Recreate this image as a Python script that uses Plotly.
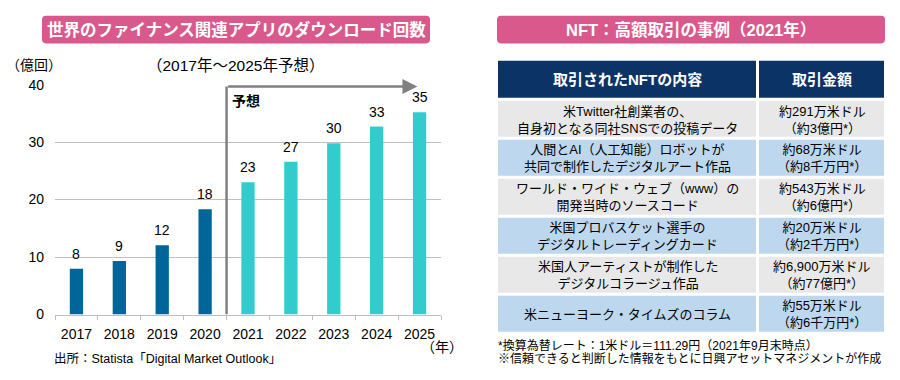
import plotly.graph_objects as go

# ---------------- data ----------------
years = ["2017", "2018", "2019", "2020", "2021", "2022", "2023", "2024", "2025"]
downloads = [7.95, 9.3, 12.05, 18.3, 23.0, 26.6, 29.8, 32.7, 35.2]   # 億回
labels = ["8", "9", "12", "18", "23", "27", "30", "33", "35"]
is_forecast = [False, False, False, False, True, True, True, True, True]

nft_items = [
    "米Twitter社創業者の、<br>自身初となる同社SNSでの投稿データ",
    "人間とAI（人工知能）ロボットが<br>共同で制作したデジタルアート作品",
    "ワールド・ワイド・ウェブ（www）の<br>開発当時のソースコード",
    "米国プロバスケット選手の<br>デジタルトレーディングカード",
    "米国人アーティストが制作した<br>デジタルコラージュ作品",
    "米ニューヨーク・タイムズのコラム",
]
nft_prices = [
    "約291万米ドル<br>（約3億円*）",
    "約68万米ドル<br>（約8千万円*）",
    "約543万米ドル<br>（約6億円*）",
    "約20万米ドル<br>（約2千万円*）",
    "約6,900万米ドル<br>（約77億円*）",
    "約55万米ドル<br>（約6千万円*）",
]
table_headers = ["取引されたNFTの内容", "取引金額"]

# ---------------- styles ----------------
W, H = 900, 380
FONT = "Liberation Sans, Arial, Noto Sans CJK JP"
PINK = "#d9598c"
DARK = "#006699"
TEAL = "#33cccc"
NAVY = "#0b3366"
ROW_GRAY = "#e8e8e8"
ROW_BLUE = "#bdd7ee"
GRID = "#bfbfbf"
COL_WIDTHS = [261, 128]
HEADER_H = 42
ROW_H = 40.5


def px(x):
    return x / W


def py(y):
    return 1 - y / H


def rrect(x0, y0, x1, y1, r):
    X0, X1 = px(x0), px(x1)
    Y0, Y1 = py(y0), py(y1)
    rx, ry = r / W, r / H
    return (f"M{X0+rx},{Y0} L{X1-rx},{Y0} Q{X1},{Y0} {X1},{Y0-ry} "
            f"L{X1},{Y1+ry} Q{X1},{Y1} {X1-rx},{Y1} L{X0+rx},{Y1} "
            f"Q{X0},{Y1} {X0},{Y1+ry} L{X0},{Y0-ry} Q{X0},{Y0} {X0+rx},{Y0} Z")


fig = go.Figure()

# ---------------- bar chart ----------------
fig.add_trace(go.Bar(
    x=years, y=downloads,
    marker=dict(color=[TEAL if f else DARK for f in is_forecast], line=dict(width=0)),
    width=0.31, hoverinfo="x+y", showlegend=False,
))

annotations = []
for i, (v, lb) in enumerate(zip(downloads, labels)):
    annotations.append(dict(x=i, y=v, xref="x", yref="y", text=lb, showarrow=False,
                            yanchor="bottom", yshift=5,
                            font=dict(size=14, color="#000", family=FONT)))

# forecast bracket
split = years.index("2021") - 0.5
top = 39.67
shapes = [dict(type="line", xref="x", yref="y", x0=split, x1=split, y0=0, y1=top,
               line=dict(color="#808080", width=2.5))]
annotations.append(dict(x=len(years) - 1 - 0.05, y=top, ax=split, ay=top, axref="x", ayref="y",
                        xref="x", yref="y", text="", showarrow=True, arrowhead=2,
                        arrowsize=1.2, arrowwidth=2.5, arrowcolor="#808080", standoff=0))
annotations.append(dict(x=split, y=top, xref="x", yref="y", text="<b>予想</b>",
                        showarrow=False, xanchor="left", yanchor="top", xshift=3, yshift=-4,
                        font=dict(size=14, color="#000", family=FONT)))

# ---------------- table (heatmap cells) ----------------
n_rows = len(nft_items)
row_heights = [HEADER_H] + [ROW_H] * n_rows
y_edges = [0]
for h in row_heights:
    y_edges.append(y_edges[-1] + h)
x_edges = [0]
for w in COL_WIDTHS:
    x_edges.append(x_edges[-1] + w)
z = [[2, 2]] + [[i % 2, i % 2] for i in range(n_rows)]
fig.add_trace(go.Heatmap(
    z=z, x=x_edges, y=y_edges, xaxis="x2", yaxis="y2",
    colorscale=[[0, ROW_GRAY], [0.25, ROW_GRAY], [0.25, ROW_BLUE], [0.75, ROW_BLUE],
                [0.75, NAVY], [1, NAVY]],
    zmin=0, zmax=2, showscale=False, xgap=3, ygap=3, hoverinfo="skip",
))
xc = [(x_edges[j] + x_edges[j + 1]) / 2 for j in range(len(COL_WIDTHS))]
yc = [(y_edges[k] + y_edges[k + 1]) / 2 for k in range(len(row_heights))]
for j, t in enumerate(table_headers):
    annotations.append(dict(x=xc[j], y=yc[0], xref="x2", yref="y2", text=f"<b>{t}</b>",
                            showarrow=False, font=dict(size=15, color="white", family=FONT)))
for k in range(n_rows):
    annotations.append(dict(x=xc[0], y=yc[k + 1], xref="x2", yref="y2", text=nft_items[k],
                            showarrow=False, align="center",
                            font=dict(size=13, color="#000", family=FONT)))
    annotations.append(dict(x=xc[1], y=yc[k + 1], xref="x2", yref="y2", text=nft_prices[k],
                            showarrow=False, align="center",
                            font=dict(size=13, color="#000", family=FONT)))

# ---------------- title boxes ----------------
shapes.append(dict(type="path", xref="paper", yref="paper", path=rrect(42, 8, 430, 37, 4),
                   fillcolor=PINK, line=dict(width=0)))
shapes.append(dict(type="path", xref="paper", yref="paper", path=rrect(497, 8, 885, 37, 4),
                   fillcolor=PINK, line=dict(width=0)))
annotations.append(dict(x=px(236), y=py(22.5), xref="paper", yref="paper",
                        text="<b>世界のファイナンス関連アプリのダウンロード回数</b>",
                        showarrow=False, xanchor="center", yanchor="middle",
                        font=dict(size=16.5, color="white", family=FONT)))
annotations.append(dict(x=px(691), y=py(22.5), xref="paper", yref="paper",
                        text="<b>NFT：高額取引の事例（2021年）</b>",
                        showarrow=False, xanchor="center", yanchor="middle",
                        font=dict(size=16.5, color="white", family=FONT)))

# ---------------- other texts ----------------
annotations.append(dict(x=px(4), y=py(60), xref="paper", yref="paper", text="（億回）",
                        showarrow=False, xanchor="left", yanchor="middle",
                        font=dict(size=14, color="#000", family=FONT)))
annotations.append(dict(x=px(235), y=py(60), xref="paper", yref="paper",
                        text="（2017年～2025年予想）",
                        showarrow=False, xanchor="center", yanchor="middle",
                        font=dict(size=15.5, color="#000", family=FONT)))
annotations.append(dict(x=px(419), y=py(354), xref="paper", yref="paper", text="（年）",
                        showarrow=False, xanchor="left", yanchor="middle",
                        font=dict(size=14, color="#000", family=FONT)))
annotations.append(dict(x=px(52), y=py(366), xref="paper", yref="paper",
                        text="出所：Statista「Digital Market Outlook」",
                        showarrow=False, xanchor="left", yanchor="middle",
                        font=dict(size=12.5, color="#000", family=FONT)))
annotations.append(dict(x=px(496), y=py(352), xref="paper", yref="paper",
                        text="*換算為替レート：1米ドル＝111.29円（2021年9月末時点）",
                        showarrow=False, xanchor="left", yanchor="middle",
                        font=dict(size=12, color="#000", family=FONT)))
annotations.append(dict(x=px(496), y=py(366), xref="paper", yref="paper",
                        text="※信頼できると判断した情報をもとに日興アセットマネジメントが作成",
                        showarrow=False, xanchor="left", yanchor="middle",
                        font=dict(size=12, color="#000", family=FONT)))

fig.update_layout(
    width=W, height=H, margin=dict(l=0, r=0, t=0, b=0),
    paper_bgcolor="white", plot_bgcolor="white",
    font=dict(family=FONT, color="#000"),
    bargap=0.69, showlegend=False,
    xaxis=dict(domain=[px(55), px(441)], type="category", range=[-0.5, len(years) - 0.5],
               showline=True, linecolor=GRID, linewidth=1, ticks="outside",
               tickson="boundaries", ticklen=4, tickcolor=GRID, showgrid=False,
               ticklabelstandoff=7,
               tickfont=dict(size=14, color="#000", family=FONT), fixedrange=True),
    yaxis=dict(domain=[py(320), py(80)], range=[0, 40], dtick=10, showgrid=True,
               gridcolor=GRID, gridwidth=1, zeroline=False, showline=False,
               ticklabelstandoff=10,
               tickfont=dict(size=14, color="#000", family=FONT), fixedrange=True),
    xaxis2=dict(domain=[px(497), px(886)], range=[0, x_edges[-1]], visible=False,
                fixedrange=True, anchor="y2"),
    yaxis2=dict(domain=[py(340), py(54)], range=[y_edges[-1], 0], visible=False,
                fixedrange=True, anchor="x2"),
    shapes=shapes, annotations=annotations,
)

css_js = (
    "var h=document.documentElement,b=document.body;"
    "[h,b].forEach(function(e){e.style.margin='0';e.style.padding='0';"
    "e.style.overflow='hidden';});"
)
fig.write_html("out.html", config={"displayModeBar": False}, post_script=css_js)
